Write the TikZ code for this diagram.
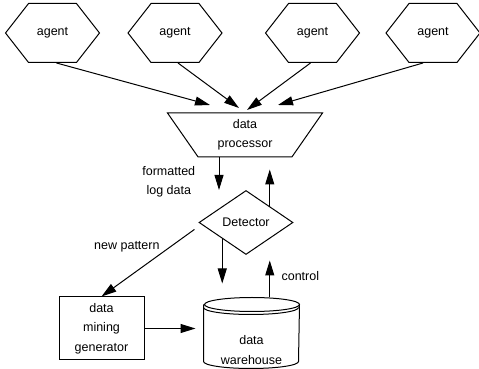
\documentclass[tikz,border=0pt]{standalone}
\usepackage{fontspec}
\setmainfont{Liberation Sans}
\usetikzlibrary{shapes.symbols, shapes.geometric, arrows.meta}

\tikzset{
	agentbox/.style={draw, signal, signal to=west and east, signal pointer angle=104, minimum width=94pt, minimum height=59pt, inner sep=0pt},
	flow/.style={-{Triangle[length=15pt, width=9pt]}},
}

\begin{document}
\begin{tikzpicture}[x=1pt, y=1pt, line width=1pt, font=\fontsize{12.5}{19.5}\selectfont]
	\useasboundingbox (0, 0) rectangle (479, 369);
	% agents
	\foreach \n/\x in {1/52.5, 2/175, 3/312.5, 4/433}
	\node[agentbox] (a\n) at (\x, 336) {agent};
	\node[draw, trapezium, shape border rotate=180, trapezium angle=51, trapezium stretches body, minimum width=155pt, minimum height=44pt, align=center] (dp) at (245, 234) {data\\processor};
	\node[draw, diamond, aspect=1.5, minimum width=94pt, minimum height=64pt, inner sep=0pt] (det) at (246, 146.5) {Detector};
	\node[draw, minimum width=85pt, minimum height=63pt, align=center] (dmg) at (101.5, 40.5) {data\\mining\\generator};
	% warehouse drum
	\node[minimum width=95pt, minimum height=70pt, label={[align=center, yshift=-17pt]center:data\\warehouse}] (wh) at (251.5, 36) {};
	\draw ([yshift=-7pt]wh.north west) -- ([yshift=7pt]wh.south west) arc[start angle=180, end angle=360, x radius=47.5pt, y radius=7pt] -- ([yshift=-7pt]wh.north east) arc[start angle=0, end angle=360, x radius=47.5pt, y radius=7pt];
	\draw ([yshift=-10pt]wh.north west) arc[start angle=180, end angle=360, x radius=47.5pt, y radius=7pt];
	% arrows into the processor
	\coordinate (in1) at (210, 264);
	\coordinate (in2) at (239, 261);
	\coordinate (in3) at (247, 259);
	\coordinate (in4) at (278, 264);
	\foreach \n/\dx in {1/4, 2/3, 3/-2, 4/-10}
	\draw[flow] ([xshift=\dx]a\n.south) -- (in\n);
	\draw[flow] ([xshift=-26pt]dp.south) -- ([xshift=-26pt]dp.south |- det.north) node[pos=0.74, left=20pt, align=center] {formatted\\log data};
	\draw[flow, shorten >=12pt] (det.north east) -- (det.north east |- dp.south);
	\draw[flow, shorten >=14pt] (det.south west) -- (det.south west |- wh.north);
	\draw[flow, shorten >=5.5pt] (det.south east |- wh.north) -- (det.south east |- det.south) node[midway, right=8pt] {control};
	\draw[flow, shorten <=5pt] ([yshift=-4pt]det.west) -- (dmg.north) node[pos=0.29, left=7pt] {new pattern};
	\draw[flow, shorten >=8pt] (dmg.east) -- (dmg.east -| wh.west);
\end{tikzpicture}
\end{document}
